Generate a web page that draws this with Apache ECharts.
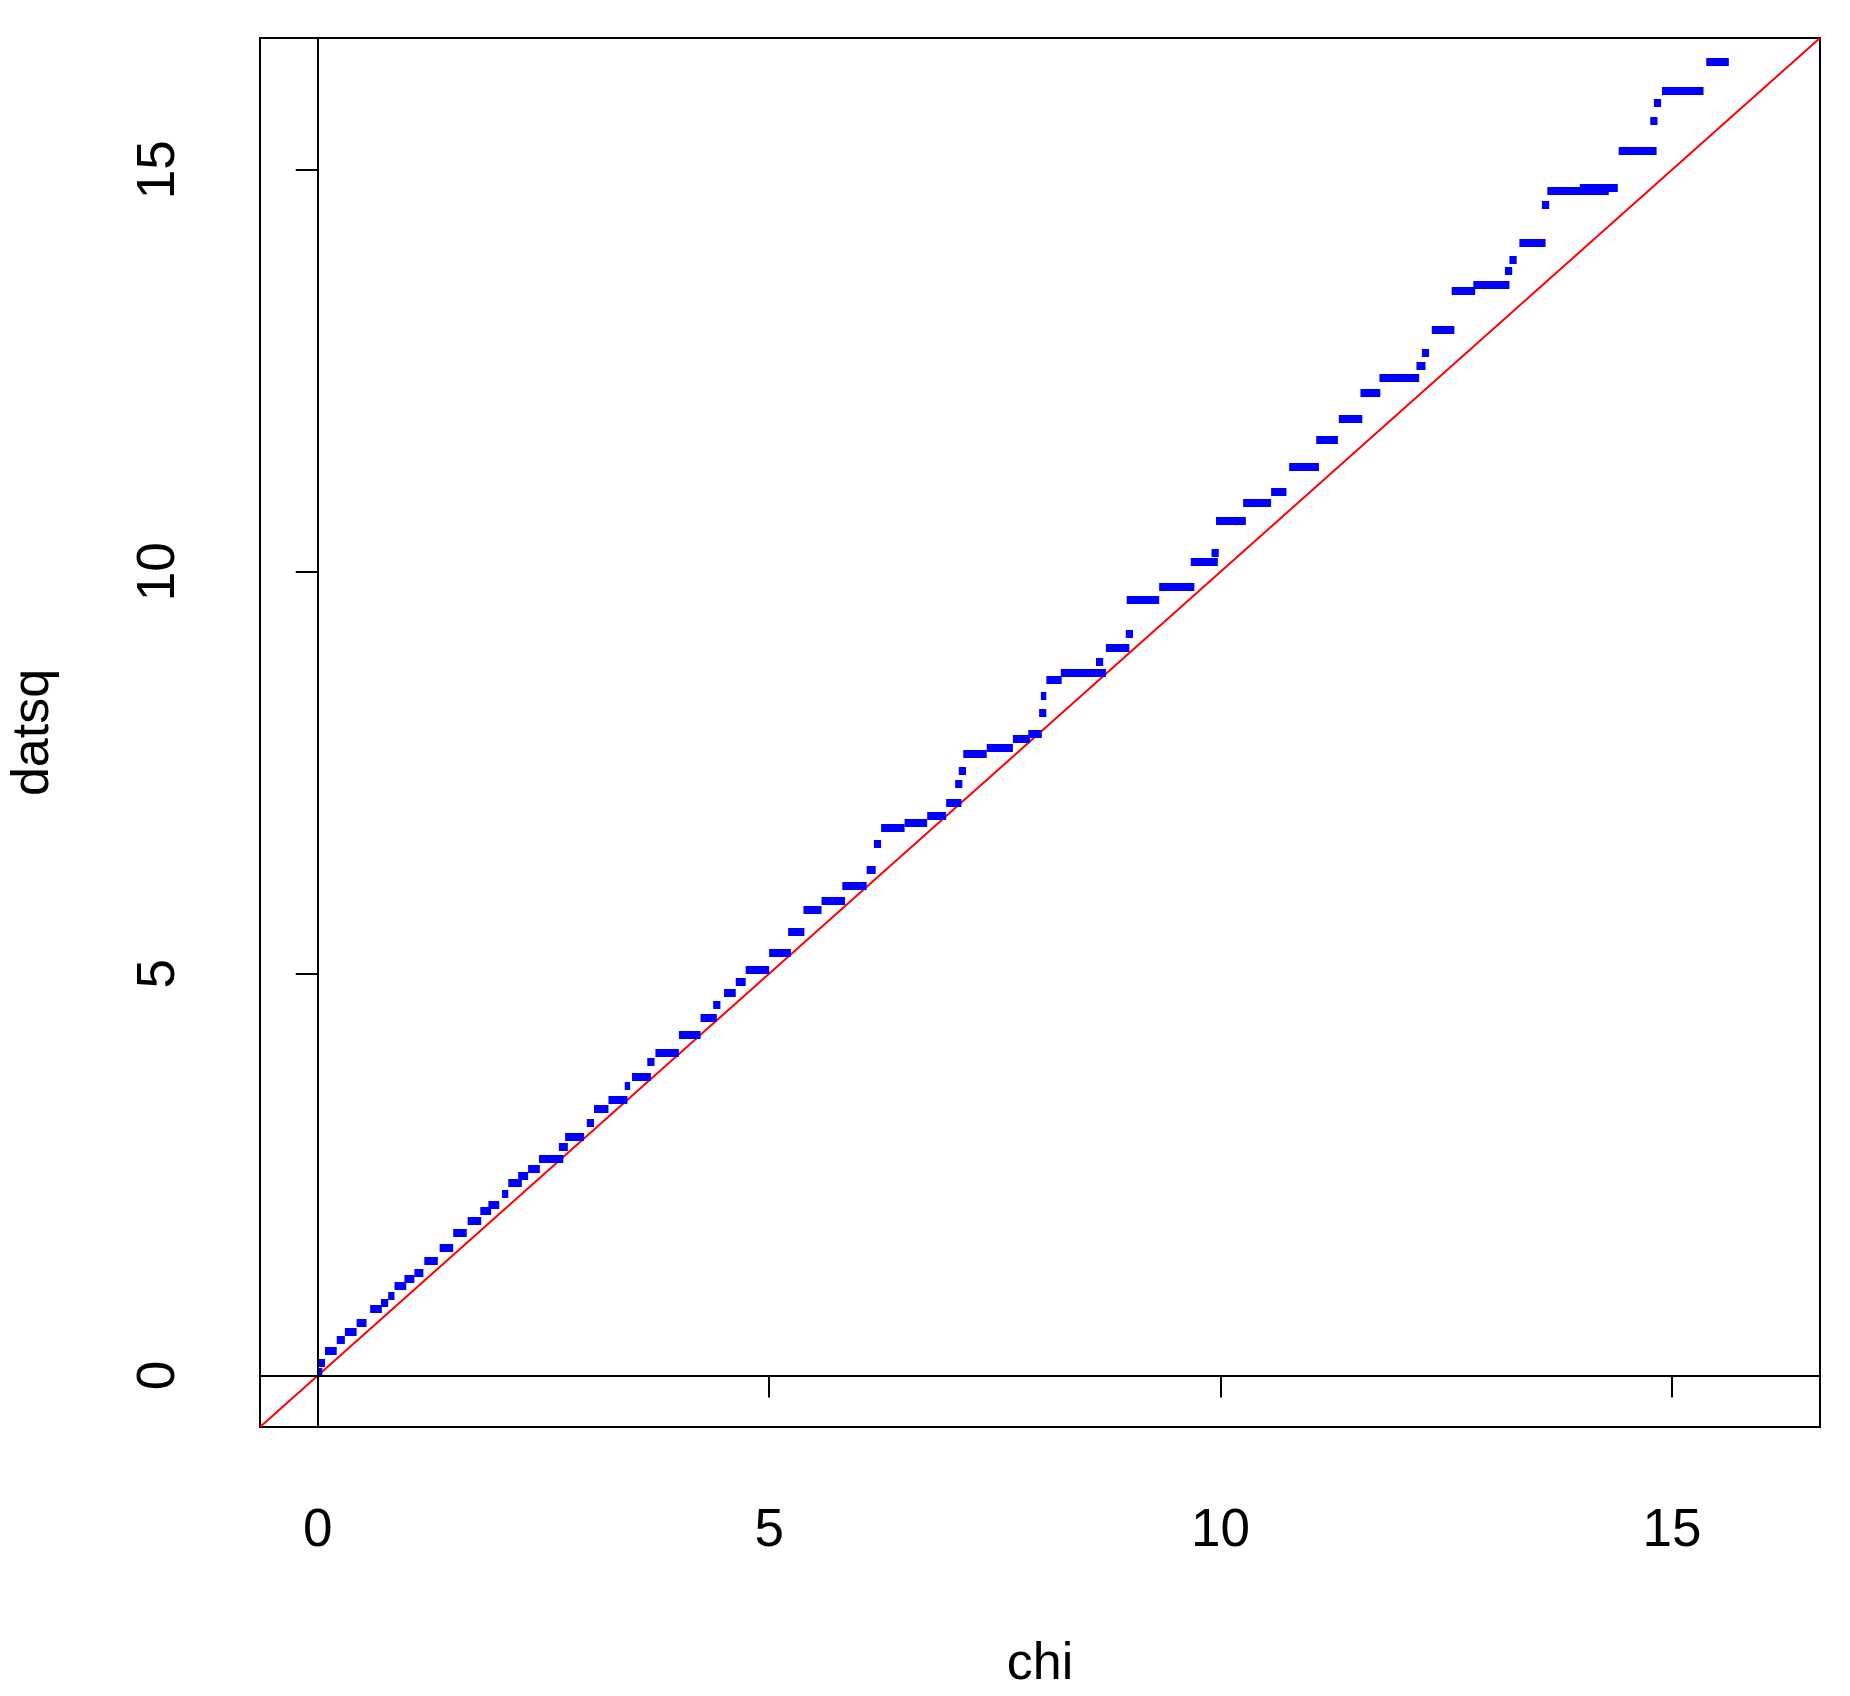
<!DOCTYPE html>
<html>
<head>
<meta charset="utf-8">
<script src="https://cdn.jsdelivr.net/npm/echarts@6/dist/echarts.min.js"></script>
<style>html,body{margin:0;padding:0;background:#fff}#main{width:1850px;height:1696px}</style>
</head>
<body>
<div id="main"></div>
<script>
// 轴范围和刻度
var axisMin = -0.64, axisMax = 16.64;
var tickValues = [0, 5, 10, 15];
// 蓝色阶梯: [x起, x止, y]
var stepStart = [0.0, 0.0, 0.08, 0.21, 0.30, 0.43, 0.58, 0.70, 0.78, 0.85, 0.96, 1.07, 1.18, 1.35, 1.50, 1.66, 1.80, 1.89, 2.04, 2.11, 2.22, 2.33,
  2.45, 2.67, 2.74, 2.98, 3.06, 3.22, 3.40, 3.48, 3.65, 3.74, 4.0, 4.24, 4.38, 4.5, 4.63, 4.74, 5.0, 5.21, 5.38, 5.58, 5.81, 6.08, 6.16, 6.24, 6.5, 6.75, 6.96, 7.06, 7.10,
  7.15, 7.41, 7.7, 7.87, 7.99, 8.01, 8.07, 8.23, 8.62, 8.73, 8.95, 8.96, 9.32, 9.67, 9.90, 9.95, 10.25, 10.56, 10.76, 11.06, 11.31, 11.55, 11.76, 12.17, 12.23, 12.34,
  12.56, 12.8, 13.15, 13.2, 13.31, 13.56, 13.62, 13.98, 14.41, 14.76, 14.8, 14.89, 15.38];
var stepEnd = [0.05, 0.08, 0.21, 0.30, 0.43, 0.54, 0.71, 0.78, 0.85, 0.98, 1.07, 1.17, 1.33, 1.50, 1.65, 1.81, 1.92, 2.01, 2.11, 2.26, 2.33, 2.46,
  2.72, 2.77, 2.95, 3.06, 3.22, 3.43, 3.46, 3.69, 3.73, 4.0, 4.24, 4.42, 4.46, 4.63, 4.74, 5.0, 5.24, 5.39, 5.58, 5.84, 6.08, 6.18, 6.24, 6.5, 6.75, 6.96, 7.13, 7.14, 7.18,
  7.41, 7.7, 7.89, 8.02, 8.07, 8.07, 8.24, 8.73, 8.70, 8.99, 9.03, 9.32, 9.71, 9.97, 9.98, 10.28, 10.56, 10.73, 11.09, 11.3, 11.57, 11.77, 12.2, 12.27, 12.31, 12.59,
  12.82, 13.2, 13.23, 13.28, 13.6, 13.64, 14.3, 14.4, 14.83, 14.84, 14.88, 15.35, 15.63];
var stepY = [0.05, 0.16, 0.31, 0.44, 0.54, 0.66, 0.83, 0.91, 0.99, 1.12, 1.20, 1.28, 1.43, 1.59, 1.78, 1.93, 2.05, 2.13, 2.26, 2.40, 2.49, 2.57,
  2.70, 2.85, 2.97, 3.15, 3.32, 3.43, 3.6, 3.72, 3.9, 4.02, 4.24, 4.45, 4.61, 4.76, 4.9, 5.05, 5.26, 5.52, 5.8, 5.91, 6.09, 6.29, 6.62, 6.81, 6.88, 6.96, 7.12, 7.36, 7.53,
  7.74, 7.81, 7.92, 7.99, 8.24, 8.46, 8.66, 8.74, 8.88, 9.05, 9.23, 9.65, 9.81, 10.13, 10.24, 10.64, 10.86, 11.0, 11.3, 11.64, 11.9, 12.23, 12.41, 12.56, 12.72, 13.01,
  13.5, 13.57, 13.74, 13.88, 14.09, 14.56, 14.74, 14.78, 15.24, 15.61, 15.83, 15.98, 16.34];

var blueSegs = [];
for (var i = 0; i < stepY.length; i++) {
  blueSegs.push({ coords: [[stepStart[i], stepY[i]], [stepEnd[i], stepY[i]]] });
}

var chart = echarts.init(document.getElementById('main'));
var font = 'Liberation Sans';
function valAxis(name, isY) {
  return {
    type: 'value', min: axisMin, max: axisMax,
    name: name, nameLocation: 'middle', nameGap: isY ? 200 : 212, nameRotate: isY ? 90 : 0,
    nameTextStyle: { fontFamily: font, fontSize: 52, color: '#000' },
    axisLine: { show: false },
    splitLine: { show: false },
    axisTick: { show: true, length: 22, lineStyle: { color: '#000', width: 2 }, customValues: tickValues },
    axisLabel: { fontFamily: font, fontSize: 53, color: '#000', margin: isY ? 74 : 78, rotate: isY ? 90 : 0, customValues: tickValues }
  };
}
chart.setOption({
  animation: false,
  grid: { left: 242, right: 30, top: 38, bottom: 269, show: true, borderColor: '#000', borderWidth: 2, backgroundColor: 'transparent' },
  xAxis: valAxis('chi', false),
  yAxis: valAxis('datsq', true),
  series: [
    {
      type: 'line', data: [[axisMin, axisMin], [axisMax, axisMax]], symbol: 'none',
      lineStyle: { color: '#ff0000', width: 2 }, z: 3,
      markLine: {
        silent: true, symbol: 'none', label: { show: false },
        lineStyle: { color: '#000', width: 2, type: 'solid' },
        data: [{ xAxis: 0 }, { yAxis: 0 }]
      }
    },
    {
      type: 'lines', coordinateSystem: 'cartesian2d', polyline: false,
      lineStyle: { color: '#0000ff', width: 8, opacity: 1, cap: 'butt' },
      data: blueSegs, z: 4
    }
  ]
});
</script>
</body>
</html>
